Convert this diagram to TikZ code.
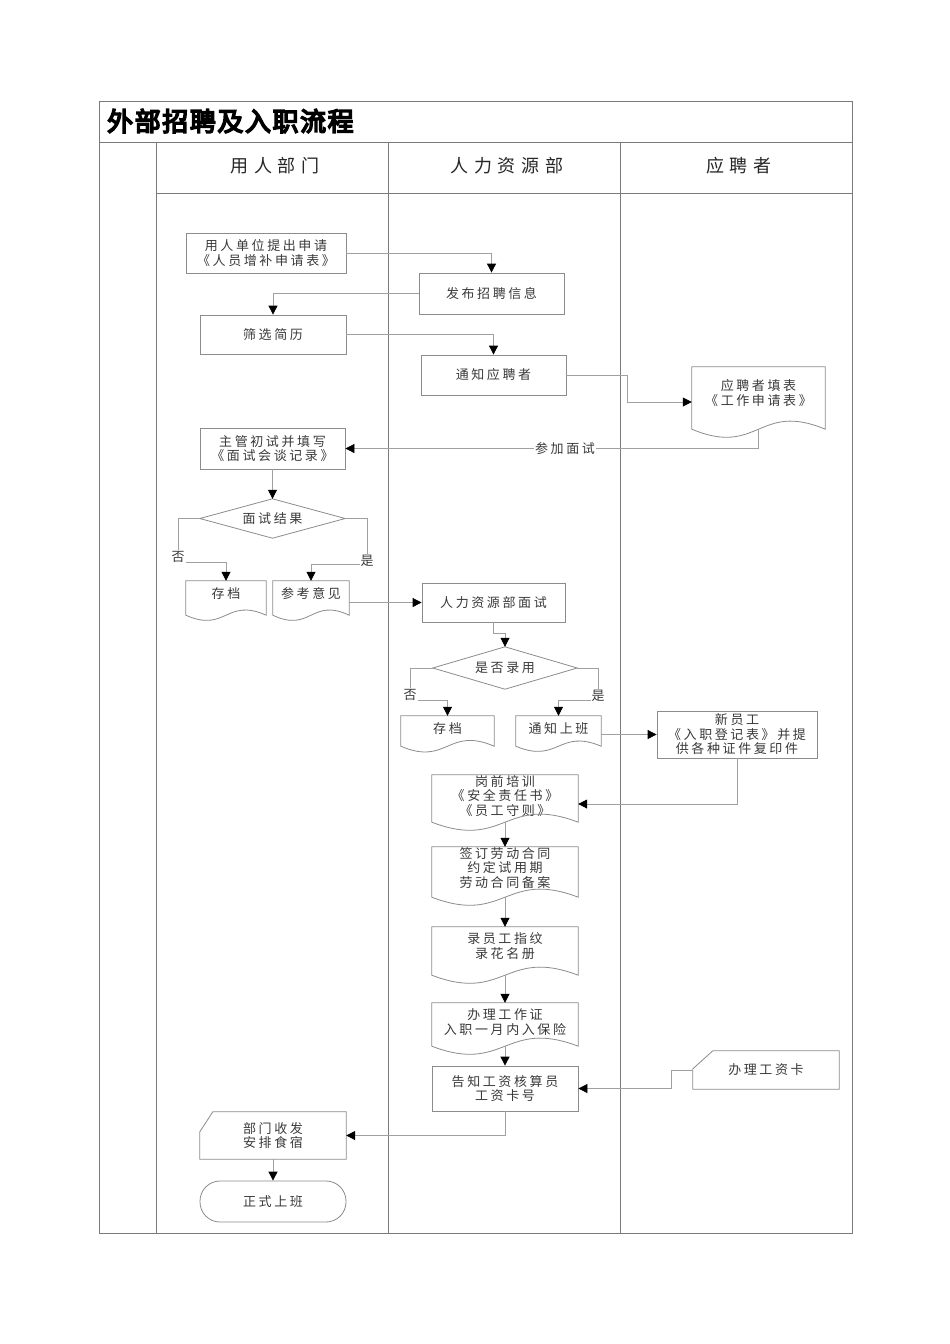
\documentclass[tikz,border=0pt]{standalone}
\usepackage{fontspec}
\newfontfamily\cjk[LetterSpace=20]{Noto Sans CJK SC}
\newfontfamily\cjkh[LetterSpace=33]{Noto Sans CJK SC}
\newfontfamily\cjkt[FakeBold=6,LetterSpace=6]{Noto Sans CJK SC}
\usetikzlibrary{calc,arrows.meta}
\definecolor{tline}{HTML}{7A7A7A}
\definecolor{sline}{HTML}{8C8C8C}
\definecolor{cline}{HTML}{A0A0A0}
\definecolor{txt}{HTML}{3A3A3A}
\begin{document}
\begin{tikzpicture}[x=1pt,y=-1pt,
  every node/.style={font=\cjk\fontsize{13}{14.5}\selectfont, text=txt, align=center, inner sep=0pt},
  sz/.style 2 args={minimum width=#1, minimum height=#2},
  proc/.style={rectangle, draw=sline, line width=0.8pt},
  ghost/.style={rectangle, draw=none},
  term/.style={rectangle, rounded corners=20pt, draw=sline, line width=0.8pt},
  outl/.style={draw=sline, line width=0.8pt},
  tablel/.style={draw=tline, line width=0.9pt},
  conn/.style={draw=cline, line width=0.8pt, -{Triangle[length=9pt,width=9pt,color=black]}},
  lbl/.style={fill=white, inner sep=1pt},
  head/.style={font=\cjkh\fontsize{18}{20}\selectfont, text=black!85}
]
% canvas
\fill[white] (0,0) rectangle (950,1344);
\useasboundingbox (0,0) rectangle (950,1344);

% table
\draw[tablel] (99,101) rectangle (852,1233);
\draw[tablel] (99,142) -- (852,142);
\draw[tablel] (156,142) -- (156,1233);
\draw[tablel] (388,142) -- (388,1233);
\draw[tablel] (620,142) -- (620,1233);
\draw[tablel] (156,193) -- (852,193);

\node[anchor=west, font=\cjkt\fontsize{26}{28}\selectfont, text=black] (title) at (107,121) {外部招聘及入职流程};
\node[head] (h1) at (275,166) {用人部门};
\node[head] (h2) at (507,166) {人力资源部};
\node[head] (h3) at (739,166) {应聘者};

% nodes
\node[proc, sz={160}{40}] (n1) at (266,253) {用人单位提出申请\\《人员增补申请表》};
\node[proc, sz={145}{41}] (n2) at (491.5,293.5) {发布招聘信息};
\node[proc, sz={146}{39}] (n3) at (273,334.5) {筛选简历};
\node[proc, sz={145}{40}] (n4) at (493.5,375) {通知应聘者};
\node[ghost, sz={133}{52}] (d5) at (758.5,393) {应聘者填表\\《工作申请表》};
\node[proc, sz={145}{41}] (n6) at (272.5,448.5) {主管初试并填写\\《面试会谈记录》};
\node[ghost, sz={145}{39}] (dia1) at (272.5,518.5) {面试结果};
\node[ghost, sz={80}{26}] (cdL) at (226,594) {存档};
\node[ghost, sz={76}{26}] (ck) at (311,594) {参考意见};
\node[proc, sz={143}{39}] (n9) at (493.5,602.5) {人力资源部面试};
\node[ghost, sz={144}{42}] (dia2) at (505,668) {是否录用};
\node[ghost, sz={93}{26}] (cdR) at (447.5,729) {存档};
\node[ghost, sz={85}{26}] (tz) at (558.5,729) {通知上班};
\node[proc, sz={160}{47}] (n12) at (737,734.5) {新员工\\《入职登记表》并提\\供各种证件复印件};
\node[ghost, sz={146}{42}] (d13) at (505,796) {岗前培训\\《安全责任书》\\《员工守则》};
\node[ghost, sz={146}{42}] (d14) at (505,868) {签订劳动合同\\约定试用期\\劳动合同备案};
\node[ghost, sz={146}{38}] (d15) at (505,946) {录员工指纹\\录花名册};
\node[ghost, sz={146}{38}] (d16) at (505,1022) {办理工作证\\入职一月内入保险};
\node[proc, sz={146}{45}] (n17) at (505,1088.5) {告知工资核算员\\工资卡号};
\node[ghost, sz={146}{38}] (c18) at (766,1070) {办理工资卡};
\node[ghost, sz={146}{47}] (c19) at (273,1135.5) {部门收发\\安排食宿};
\node[term, sz={146}{41}] (t20) at (273,1201.5) {正式上班};

% document outlines
\foreach \n/\e/\k in {d5/10/28, cdL/8/18, ck/8/18, cdR/4/20, tz/4/18, d13/5/28, d14/8/28, d15/10/28, d16/5/28}{
  \draw[outl] (\n.north west) -- (\n.north east) -- ($(\n.south east)+(0,\e)$)
    .. controls ($(\n.south)+(0,\e-\k)$) and ($(\n.south)+(0,\e+\k)$) .. ($(\n.south west)+(0,\e)$) -- cycle;
}
% diamonds
\foreach \n in {dia1,dia2}{
  \draw[outl] (\n.west) -- (\n.north) -- (\n.east) -- (\n.south) -- cycle;
}
% cards
\draw[outl] ($(c18.north west)+(20,0)$) -- (c18.north east) -- (c18.south east) -- (c18.south west) -- ($(c18.north west)+(0,18)$) -- cycle;
\draw[outl] ($(c19.north west)+(13,0)$) -- (c19.north east) -- (c19.south east) -- (c19.south west) -- ($(c19.north west)+(0,20)$) -- cycle;

% connectors
\draw[conn] (n1.east) -| (n2.north);
\draw[conn] (n2.west) -| (n3.north);
\draw[conn] (n3.east) -| (n4.north);
\draw[conn] (n4.east) -| ($(d5.west)+(-64,9)$) -- ($(d5.west)+(0,9)$);
\draw[conn] ($(d5.south)+(0,10)$) |- (n6.east);
\node[lbl] (l1) at (565,448.5) {参加面试};
\draw[conn] (n6.south) -- (dia1.north);
\draw[conn] (dia1.west) -| ($(cdL.north)+(-48,-18)$) -| (cdL.north);
\node[lbl] (l2) at (178,557) {否};
\draw[conn] (dia1.east) -| ($(ck.north)+(56,-16)$) -| (ck.north);
\node[lbl] (l3) at (367,561) {是};
\draw[conn] (n9.west -| ck.east) -- (n9.west);
\draw[conn] (n9.south) -- ++(0,11) -| (dia2.north);
\draw[conn] (dia2.west) -| ($(cdR.north)+(-37.5,-15)$) -| (cdR.north);
\node[lbl] (l4) at (410,695) {否};
\draw[conn] (dia2.east) -| ($(tz.north)+(39.5,-15)$) -| (tz.north);
\node[lbl] (l5) at (598,696) {是};
\draw[conn] (n12.west -| tz.east) -- (n12.west);
\draw[conn] (n12.south) |- ($(d13.east)+(0,8)$);
\draw[conn] ($(d13.south)+(0,5)$) -- (d14.north);
\draw[conn] ($(d14.south)+(0,8)$) -- (d15.north);
\draw[conn] ($(d15.south)+(0,10)$) -- (d16.north);
\draw[conn] ($(d16.south)+(0,5)$) -- (n17.north);
\draw[conn] (c18.west) -| ($(n17.east)+(93,0)$) -- (n17.east);
\draw[conn] (n17.south) |- (c19.east);
\draw[conn] (c19.south) -- (t20.north);
\end{tikzpicture}
\end{document}
